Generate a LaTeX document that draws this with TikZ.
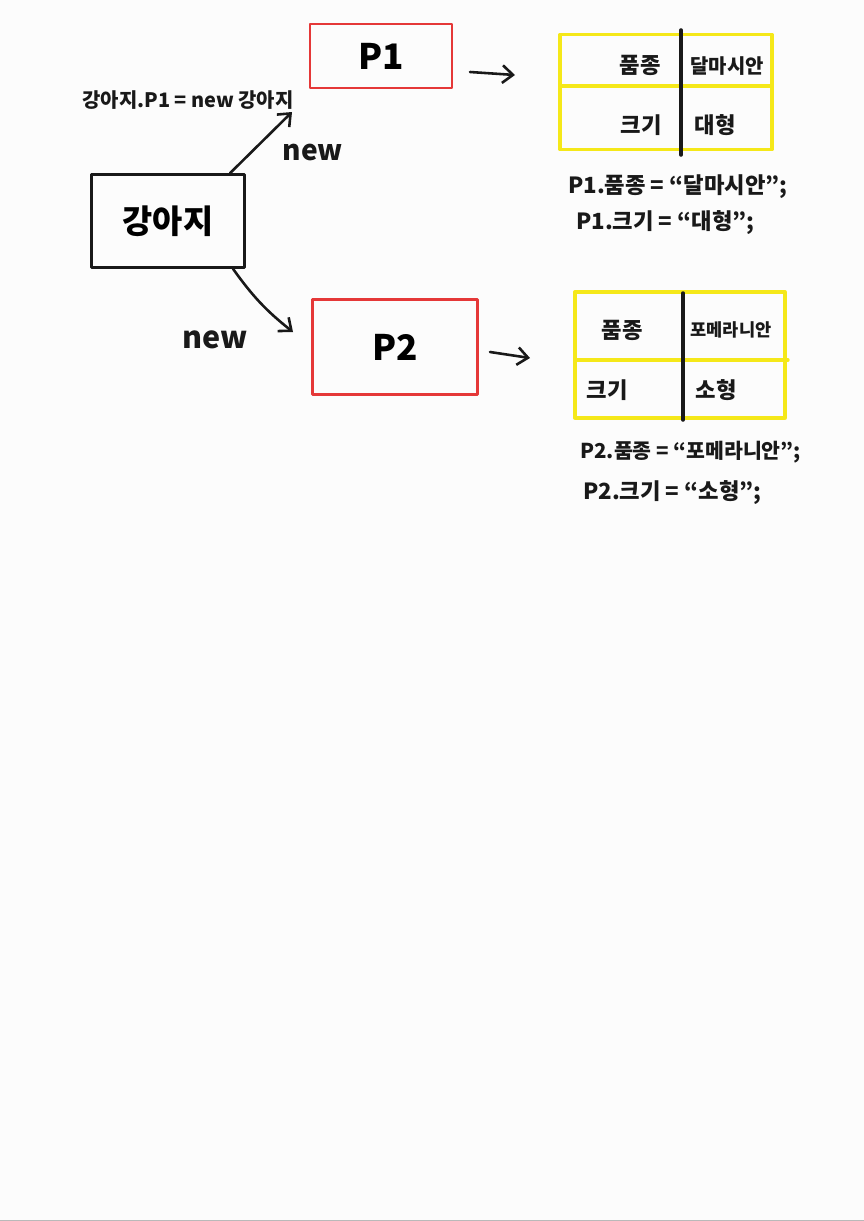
\documentclass[tikz,border=0pt]{standalone}
\usepackage{fontspec}
\setmainfont{Noto Sans CJK KR}
\usepackage{tikz}
\usetikzlibrary{positioning}
\usetikzlibrary{arrows.meta}
\definecolor{mred}{rgb}{0.9, 0.22, 0.22}
\definecolor{myellow}{rgb}{0.96, 0.91, 0.1}
\definecolor{mink}{rgb}{0.1, 0.1, 0.1}
\definecolor{mpaper}{rgb}{0.988, 0.988, 0.988}
\tikzset{pen/.style = {line width = 2.2pt, line cap = round, line join = round}}
\tikzset{classbox/.style = {draw = mink, pen, inner sep = 0}}
\tikzset{objbox/.style = {draw = mred, pen, inner sep = 0}}
\tikzset{tabbox/.style = {draw = myellow, pen, line width = 2.8pt, inner sep = 0}}
\tikzset{divider/.style = {draw = mink, pen, line width = 3pt}}
\tikzset{cell/.style = {text = mink, inner sep = 0, font = \fontsize{19}{22}\selectfont\bfseries}}
\tikzset{code/.style = {text = mink, inner sep = 0, anchor = west, font = \fontsize{19}{22}\selectfont\bfseries}}
\tikzset{link/.style = {pen, mink, -{Straight Barb[length = 9pt, width = 15pt]}}}

\begin{document}
\begin{tikzpicture}[x = 0.03cm, y = -0.03cm]
      \useasboundingbox (0, 0) rectangle (864, 1221);
      \fill [mpaper] (0, 0) rectangle (864, 1221);
      \draw [gray!55, line width = 0.03cm] (0, 1220) -- (864, 1220);
      % class and its two objects
      \node [classbox, minimum width = 4.59cm, minimum height = 2.79cm,
        font = \fontsize{28}{32}\selectfont\bfseries] (dog) at (168, 221) {강아지};
      \node [objbox, minimum width = 4.26cm, minimum height = 1.92cm,
        font = \fontsize{30}{34}\selectfont\bfseries] (p1) at (381, 56) {P1};
      \node [objbox, minimum width = 4.95cm, minimum height = 2.85cm,
        font = \fontsize{30}{34}\selectfont\bfseries] (p2) at (395, 347) {P2};
      \node [text = mink, font = \fontsize{17}{20}\selectfont\bfseries] (decl) at (188, 100)
        {강아지.P1 = new 강아지};
      \node [text = mink, font = \fontsize{24}{28}\selectfont\bfseries] (new1) at (313, 152) {new};
      \node [text = mink, font = \fontsize{26}{30}\selectfont\bfseries] (new2) at (215, 340) {new};
      \coordinate (tip1) at (292, 112);
      \coordinate (tip2) at (293, 332);
      \draw [link] ([xshift = 1.86cm] dog.north) -- (tip1);
      \draw [link] ([xshift = 1.95cm] dog.south) to [bend right = 8] (tip2);
      % first table
      \node [tabbox, minimum width = 6.36cm, minimum height = 3.45cm] (tab1) at (666, 92) {};
      \draw [tabbox] (560, 86) -- (772, 86);
      \draw [divider] (681, 30) -- (681, 155);
      \node [cell] (k11) at (640, 65) {품종};
      \node [cell, font = \fontsize{17}{20}\selectfont\bfseries] (v11) at (727, 66) {달마시안};
      \node [cell] (k12) at (641, 125) {크기};
      \node [cell] (v12) at (715, 125) {대형};
      \coordinate (from1) at (470, 72);
      \coordinate (to1) at (515, 75);
      \draw [link] (from1) -- (to1);
      \node [code] (c11) at (568, 187) {P1.품종 = ``달마시안'';};
      \node [code] (c12) at (576, 223) {P1.크기 = ``대형'';};
      % second table
      \node [tabbox, minimum width = 6.3cm, minimum height = 3.78cm] (tab2) at (680, 355) {};
      \draw [tabbox] (575, 360) -- (788, 360);
      \draw [divider] (683, 293) -- (683, 420);
      \node [cell] (k21) at (622, 330) {품종};
      \node [cell, font = \fontsize{15}{18}\selectfont\bfseries] (v21) at (731, 330) {포메라니안};
      \node [cell] (k22) at (607, 390) {크기};
      \node [cell] (v22) at (716, 390) {소형};
      \coordinate (from2) at (490, 352);
      \coordinate (to2) at (530, 358);
      \draw [link] (from2) -- (to2);
      \node [code, font = \fontsize{17.5}{21}\selectfont\bfseries] (c21) at (580, 452)
        {P2.품종 = ``포메라니안'';};
      \node [code] (c22) at (583, 493) {P2.크기 = ``소형'';};
\end{tikzpicture}
\end{document}
